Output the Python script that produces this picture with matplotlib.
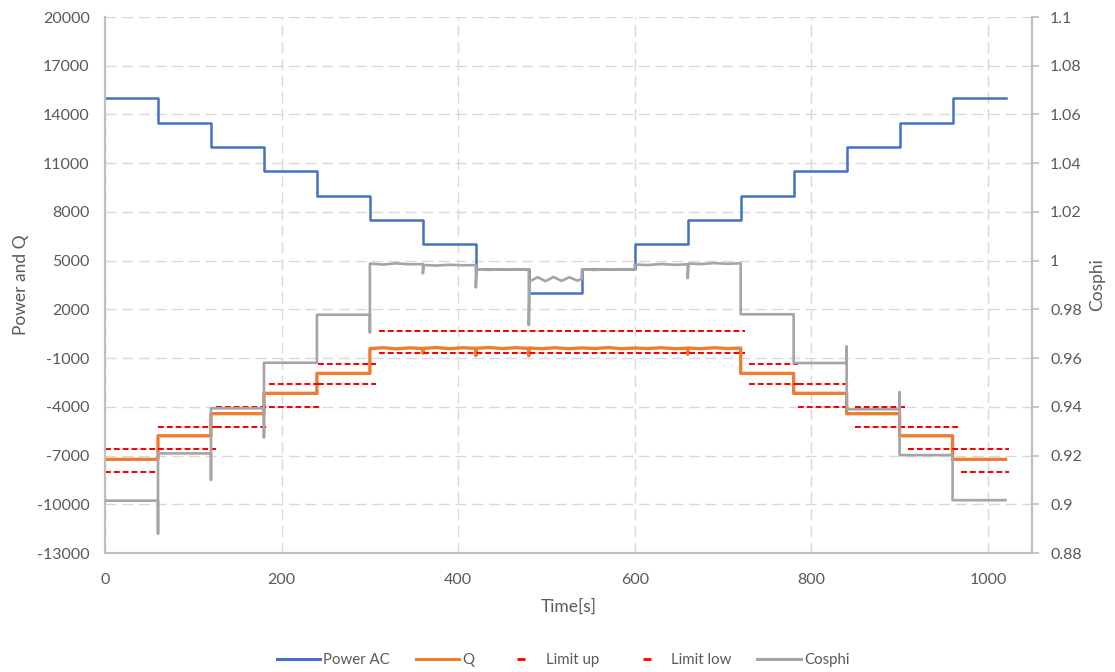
import matplotlib
matplotlib.use("Agg")
import matplotlib.pyplot as plt
from matplotlib.lines import Line2D

plt.rcParams['font.family'] = ['Lato', 'DejaVu Sans']
plt.rcParams['axes.unicode_minus'] = False

# Power AC steps (60 s each)
step_edges = [0, 60, 120, 180, 240, 300, 360, 420, 480, 540, 600, 660, 720, 780, 840, 900, 960, 1020]
power_ac = [15000, 13500, 12000, 10500, 9000, 7500, 6000, 4500, 3000,
            4500, 6000, 7500, 9000, 10500, 12000, 13500, 15000]

# Q (reactive power) measured points
q_t = [0, 60, 60, 120, 120, 180, 180, 240, 240, 300,
       300, 315, 330, 345, 360, 360, 361, 375, 390, 405,
       420, 420, 421, 435, 450, 465, 480, 480, 481, 495,
       510, 525, 540, 555, 570, 585, 600, 615, 630, 645,
       660, 660, 661, 675, 690, 705, 720, 720, 780, 780,
       840, 840, 900, 900, 960, 960, 1020]
q_v = [-7230, -7230, -5780, -5780, -4420, -4420, -3170, -3170, -1940, -1940,
       -420, -360, -430, -370, -410, -700, -400, -350, -420, -360,
       -400, -850, -390, -350, -410, -360, -400, -850, -380, -420,
       -360, -420, -370, -410, -350, -420, -380, -410, -360, -420,
       -390, -760, -380, -420, -360, -410, -380, -1940, -1940, -3170,
       -3170, -4420, -4420, -5780, -5780, -7230, -7230]

# Limit windows per step
lim_start = [0, 60, 126, 186, 241, 310, 729, 785, 849, 910, 969]
lim_end = [58, 126, 186, 246, 307, 725, 785, 845, 906, 966, 1024]
limit_up = [-6620, -5230, -3990, -2620, -1370, 670, -1370, -2620, -3990, -5230, -6620]
limit_low = [-8000, -6620, -5230, -3990, -2620, -670, -2620, -3990, -5230, -6620, -8000]

# Cosphi measured points
cos_t = [0, 60, 60, 60, 120, 120, 120, 180, 180, 180,
         240, 240, 300, 300, 300, 315, 330, 345, 360, 360,
         361, 375, 390, 405, 420, 420, 421, 435, 450, 465,
         480, 480, 481, 490, 499, 508, 517, 526, 535, 540,
         540, 555, 570, 585, 600, 600, 615, 630, 645, 660,
         660, 661, 675, 690, 705, 720, 720, 780, 780, 840,
         840, 840, 900, 900, 900, 960, 960, 1020]
cos_v = [0.9015, 0.9015, 0.888, 0.9209, 0.9209, 0.910, 0.9394, 0.9394, 0.9275, 0.9581,
         0.9581, 0.9778, 0.9778, 0.9706, 0.9988, 0.9984, 0.9989, 0.9985, 0.9986, 0.9948,
         0.9982, 0.9980, 0.9983, 0.9981, 0.9982, 0.989, 0.9964, 0.9962, 0.9965, 0.9963,
         0.9964, 0.9736, 0.9915, 0.9932, 0.9916, 0.9933, 0.9917, 0.9932, 0.9918, 0.9925,
         0.9964, 0.9962, 0.9965, 0.9963, 0.9964, 0.9984, 0.9982, 0.9986, 0.9983, 0.9985,
         0.9928, 0.9988, 0.9986, 0.9990, 0.9987, 0.9989, 0.9780, 0.9780, 0.9580, 0.9580,
         0.9647, 0.9390, 0.9390, 0.946, 0.9202, 0.9202, 0.9017, 0.9017]

left_ticks = list(range(-13000, 20001, 3000))
right_ticks = [0.88, 0.90, 0.92, 0.94, 0.96, 0.98, 1.00, 1.02, 1.04, 1.06, 1.08, 1.10]
x_ticks = [0, 200, 400, 600, 800, 1000]

txt = '#595959'
axcol = '#BFBFBF'

fig = plt.figure(figsize=(11.15, 6.72), dpi=100)
ax = fig.add_axes([0.0942, 0.177, 0.8314, 0.7977])

ax.step(step_edges, power_ac + [power_ac[-1]], where='post', color='#4472C4', lw=1.8, zorder=3)
ax.plot(q_t, q_v, color='#ED7D31', lw=2.4, zorder=3)
dash = (0, (2.9, 1.5))
ax.hlines(limit_up, lim_start, lim_end, colors='#FF0000', linestyles=[dash], lw=1.45, zorder=4)
ax.hlines(limit_low, lim_start, lim_end, colors='#FF0000', linestyles=[dash], lw=1.45, zorder=4)

ax.set_xlim(0, 1050)
ax.set_ylim(-13000, 20000)
ax.set_xticks(x_ticks)
ax.set_yticks(left_ticks)
ax.grid(True, color='#D9D9D9', lw=1.0, linestyle=(0, (8, 4)))
ax.set_axisbelow(True)
ax.tick_params(axis='y', length=0, labelsize=11.5, labelcolor=txt, pad=11)
ax.tick_params(axis='x', length=0, labelsize=11.5, labelcolor=txt, pad=14)
ax.spines['top'].set_visible(False)
for s in ['left', 'bottom', 'right']:
    ax.spines[s].set_color(axcol)
    ax.spines[s].set_linewidth(1.5)
ax.set_ylabel('Power and Q', fontsize=12.5, color=txt, labelpad=6)
ax.set_xlabel('Time[s]', fontsize=12.5, color=txt, labelpad=9)

ax2 = ax.twinx()
ax2.plot(cos_t, cos_v, color='#A5A5A5', lw=1.9, zorder=5)
ax2.set_ylim(0.88, 1.1)
ax2.set_yticks(right_ticks)
ax2.set_yticklabels([f"{round(v, 2):g}" for v in right_ticks])
ax2.tick_params(axis='y', length=5, width=1.2, color=axcol, labelsize=11.5, labelcolor=txt, pad=8)
ax2.spines['top'].set_visible(False)
for s in ['left', 'bottom', 'right']:
    ax2.spines[s].set_color(axcol)
    ax2.spines[s].set_linewidth(1.5)
ax2.set_ylabel('Cosphi', fontsize=12.5, color=txt, labelpad=5)

handles = [
    Line2D([], [], color='#4472C4', lw=2.2),
    Line2D([], [], color='#ED7D31', lw=2.2),
    Line2D([], [], color='#FF0000', marker='_', linestyle='None', markersize=6, markeredgewidth=2),
    Line2D([], [], color='#FF0000', marker='_', linestyle='None', markersize=6, markeredgewidth=2),
    Line2D([], [], color='#A5A5A5', lw=2.2),
]
labels = ['Power AC', 'Q', 'Limit up', 'Limit low', 'Cosphi']
leg = fig.legend(handles, labels, loc='center', bbox_to_anchor=(0.505, 1 - 660 / 672), ncol=5,
                 frameon=False, fontsize=10.8, handlelength=2.9, handletextpad=0.2, columnspacing=1.7)
for t in leg.get_texts():
    t.set_color(txt)

fig.savefig('out.png', dpi=100)
